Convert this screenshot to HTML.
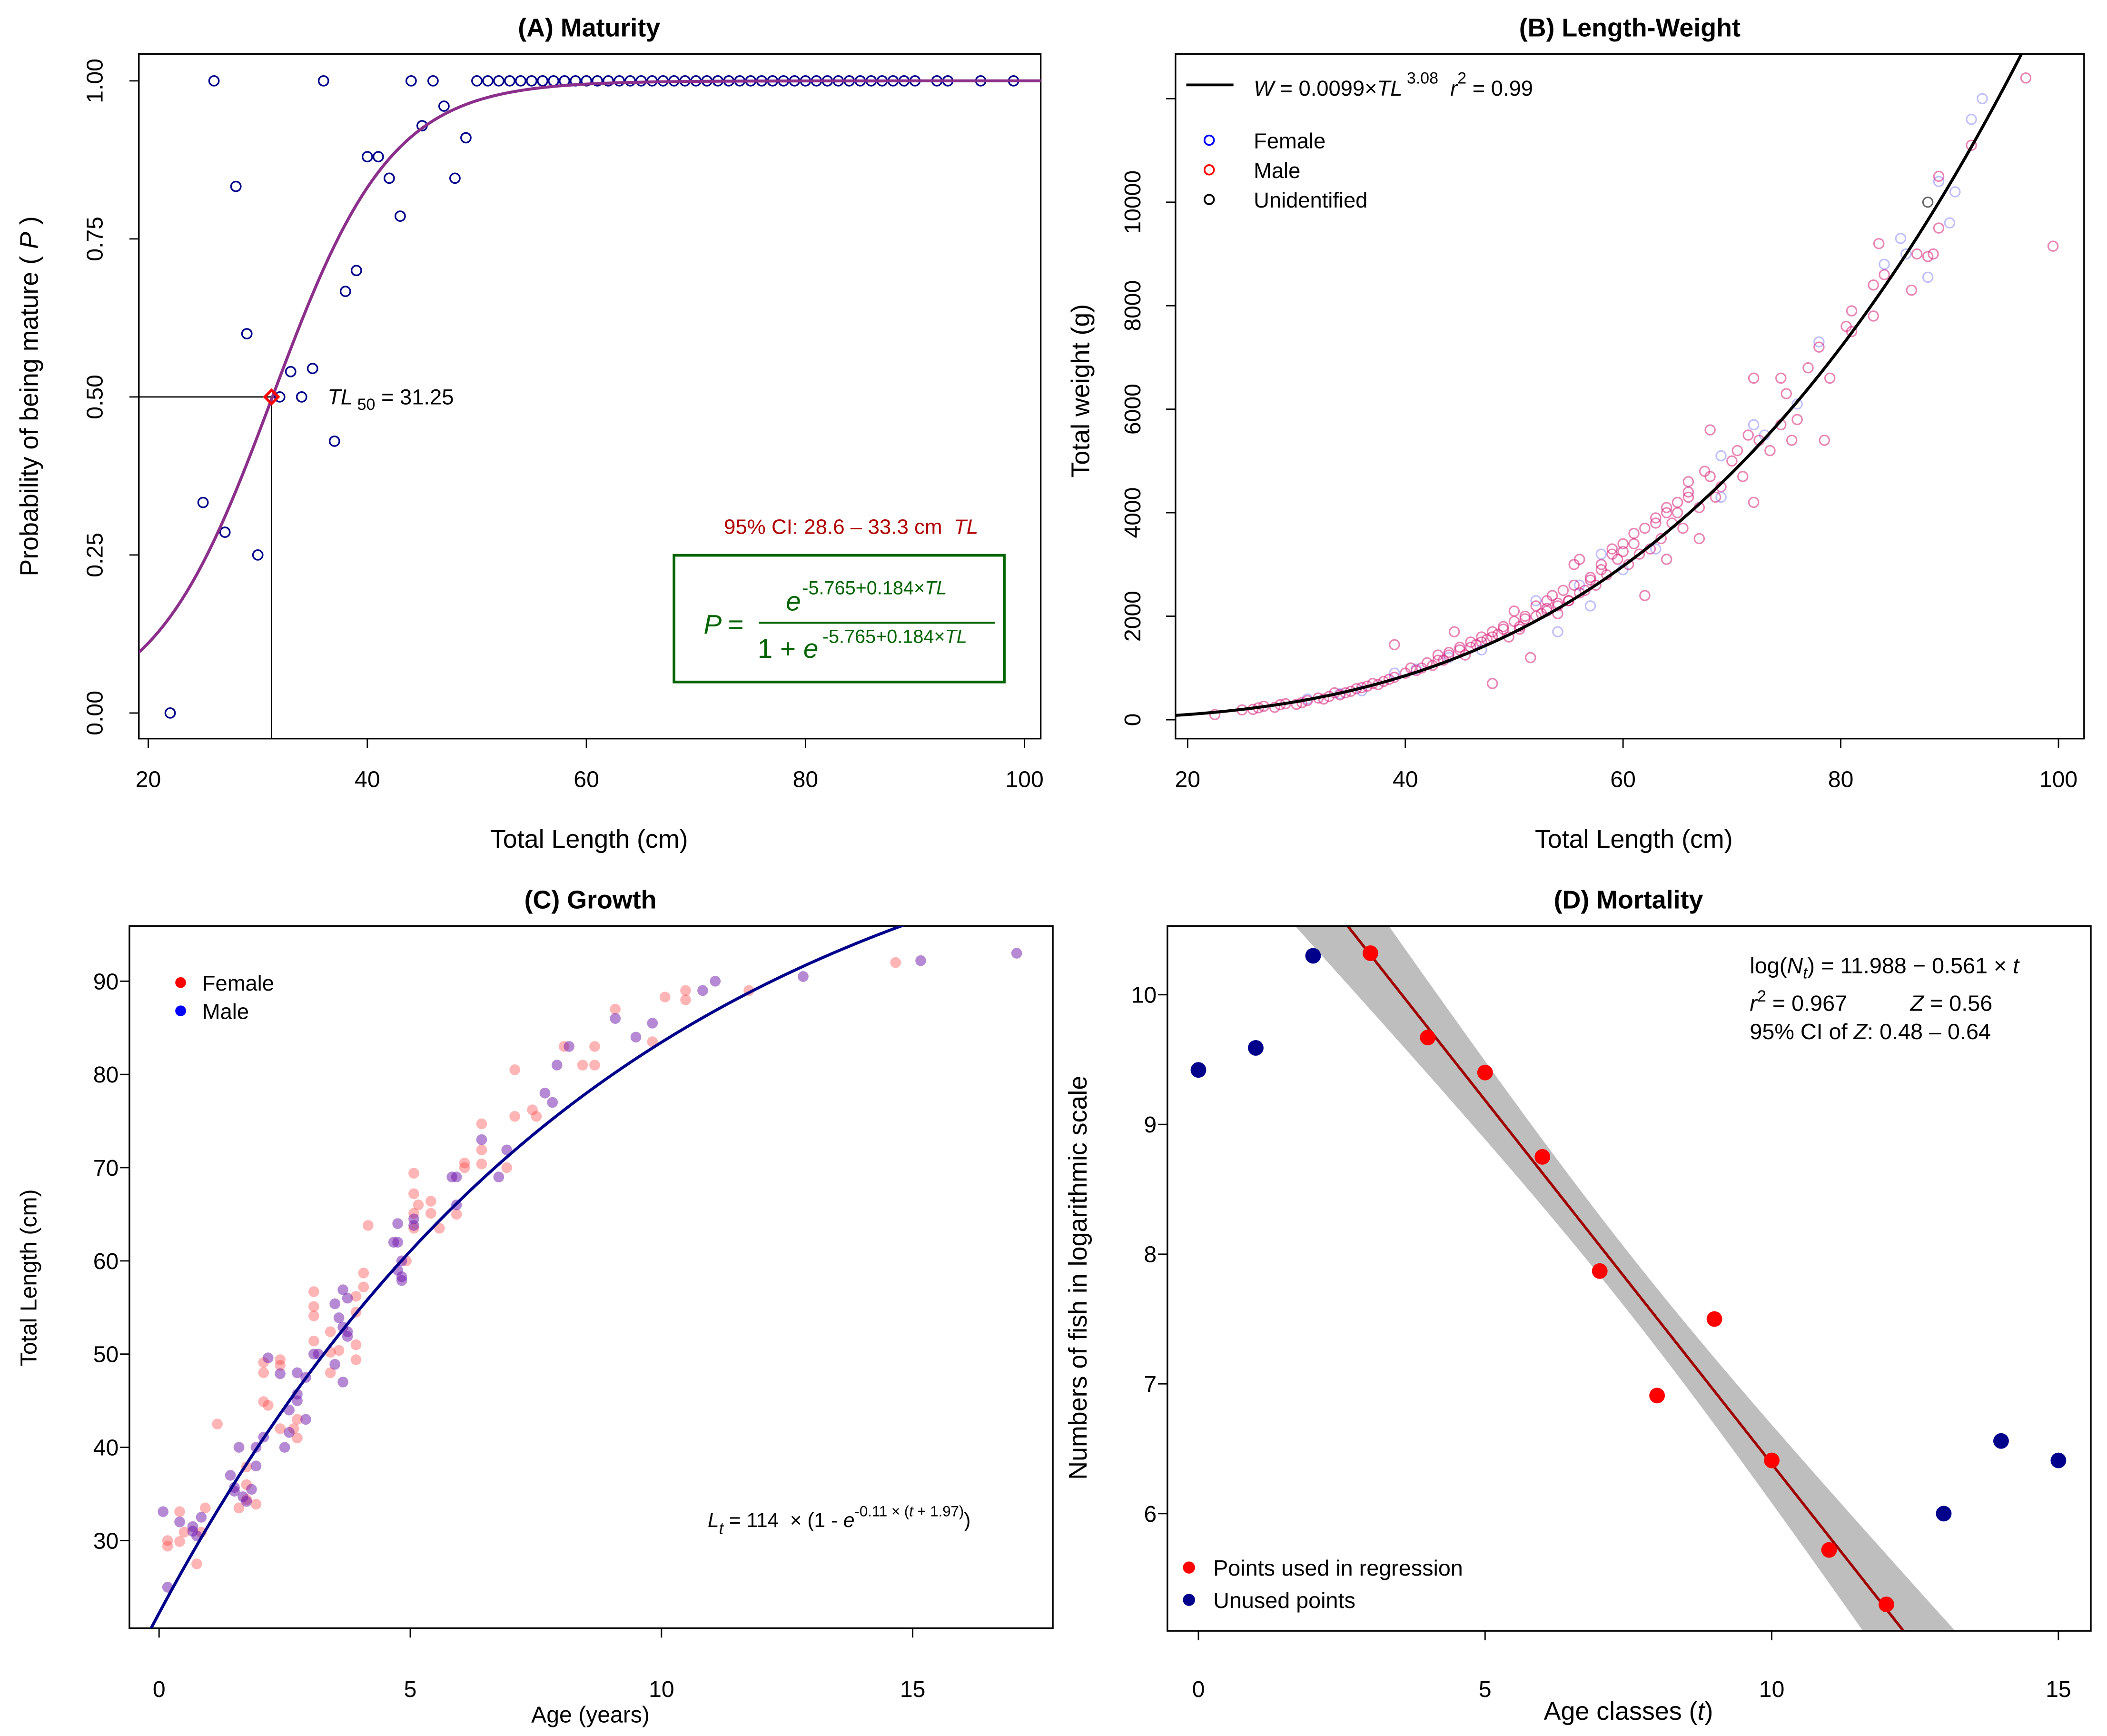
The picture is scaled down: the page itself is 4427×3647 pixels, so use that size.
<!DOCTYPE html>
<html><head><meta charset="utf-8"><style>
html,body{margin:0;padding:0;background:#fff;overflow:hidden;width:4427px;height:3647px;}
svg{display:block;font-family:"Liberation Sans",Arial,sans-serif;}
text{white-space:pre;}
</style></head><body>
<svg id="chart" width="4427" height="3647" viewBox="0 0 1563 1288" preserveAspectRatio="none" xmlns="http://www.w3.org/2000/svg">
<defs>
<clipPath id="clipA"><rect x="103" y="40" width="669" height="508"/></clipPath>
<clipPath id="clipB"><rect x="872" y="40" width="674" height="508"/></clipPath>
<clipPath id="clipC"><rect x="96" y="687" width="685" height="521"/></clipPath>
<clipPath id="clipD"><rect x="866" y="687" width="685" height="523"/></clipPath>
</defs>
<rect x="0" y="0" width="1563" height="1288" fill="#fff"/>

<g>
<text x="437" y="27" text-anchor="middle" font-size="19" font-weight="bold">(A) Maturity</text>
<rect x="103" y="40" width="669" height="508" fill="none" stroke="#000" stroke-width="1.2"/>
<text x="437" y="629" text-anchor="middle" font-size="19">Total Length (cm)</text>
<text transform="translate(28,294) rotate(-90)" text-anchor="middle" font-size="19">Probability of being mature ( <tspan font-style="italic">P</tspan> )</text>
<text x="243" y="300" font-size="16"><tspan font-style="italic">TL</tspan><tspan font-size="12" dy="4"> 50</tspan><tspan dy="-4"> = 31.25</tspan></text>
<text x="537" y="396" font-size="15.5" fill="#b00000">95% CI: 28.6 – 33.3 cm  <tspan font-style="italic">TL</tspan></text>
<rect x="500" y="412" width="245" height="94" fill="none" stroke="#006400" stroke-width="2"/>
<g fill="#006400">
<text x="522" y="470" font-size="20" font-style="italic">P</text><text x="540" y="470" font-size="20">=</text>
<text x="583" y="453" font-size="20" font-style="italic">e</text><text x="595" y="441" font-size="14">-5.765+0.184×<tspan font-style="italic">TL</tspan></text>
<line x1="563" y1="462" x2="738" y2="462" stroke="#006400" stroke-width="1.5"/>
<text x="562" y="488" font-size="20">1 + <tspan font-style="italic">e</tspan></text><text x="610" y="477" font-size="14">-5.765+0.184×<tspan font-style="italic">TL</tspan></text>
</g>
</g>

<g>
<text x="1209" y="27" text-anchor="middle" font-size="19" font-weight="bold">(B) Length-Weight</text>
<rect x="872" y="40" width="674" height="508" fill="none" stroke="#000" stroke-width="1.2"/>
<text x="1212" y="629" text-anchor="middle" font-size="19">Total Length (cm)</text>
<text transform="translate(808,290) rotate(-90)" text-anchor="middle" font-size="19">Total weight (g)</text>
<line x1="880" y1="63" x2="915" y2="63" stroke="#000" stroke-width="2"/>
<text x="930" y="71" font-size="16"><tspan font-style="italic">W</tspan> = 0.0099×<tspan font-style="italic">TL</tspan><tspan font-size="12" dy="-9"> 3.08</tspan><tspan dy="9">  </tspan><tspan font-style="italic">r</tspan><tspan font-size="12" dy="-9">2</tspan><tspan dy="9"> = 0.99</tspan></text>
<circle cx="897" cy="104" r="3.5" fill="none" stroke="#00f" stroke-width="1.3"/>
<text x="930" y="110" font-size="16">Female</text>
<circle cx="897" cy="126" r="3.5" fill="none" stroke="#f00" stroke-width="1.3"/>
<text x="930" y="132" font-size="16">Male</text>
<circle cx="897" cy="148" r="3.5" fill="none" stroke="#000" stroke-width="1.3"/>
<text x="930" y="154" font-size="16">Unidentified</text>
</g>

<g>
<text x="438" y="674" text-anchor="middle" font-size="19" font-weight="bold">(C) Growth</text>
<rect x="96" y="687" width="685" height="521" fill="none" stroke="#000" stroke-width="1.2"/>
<text x="438" y="1278" text-anchor="middle" font-size="17">Age (years)</text>
<text transform="translate(27,948) rotate(-90)" text-anchor="middle" font-size="17">Total Length (cm)</text>
<circle cx="134" cy="729" r="4" fill="#f00"/>
<text x="150" y="735" font-size="16">Female</text>
<circle cx="134" cy="750" r="4" fill="#00f"/>
<text x="150" y="756" font-size="16">Male</text>
<text x="525" y="1133" font-size="15"><tspan font-style="italic">L</tspan><tspan font-style="italic" font-size="12" dy="5">t</tspan><tspan dy="-5"> = 114  × (1 - </tspan><tspan font-style="italic">e</tspan><tspan font-size="11" dy="-8">-0.11 × (<tspan font-style="italic">t</tspan> + 1.97)</tspan><tspan dy="8">)</tspan></text>
</g>

<g>
<text x="1208" y="674" text-anchor="middle" font-size="19" font-weight="bold">(D) Mortality</text>
<text x="1208" y="1276" text-anchor="middle" font-size="19">Age classes (<tspan font-style="italic">t</tspan>)</text>
<text transform="translate(806,948) rotate(-90)" text-anchor="middle" font-size="19">Numbers of fish in logarithmic scale</text>
<text x="1298" y="722" font-size="16.5">log(<tspan font-style="italic">N</tspan><tspan font-style="italic" font-size="12" dy="4">t</tspan><tspan dy="-4">) = 11.988 − 0.561 × </tspan><tspan font-style="italic">t</tspan></text>
<text x="1298" y="750" font-size="16.5"><tspan font-style="italic">r</tspan><tspan font-size="12" dy="-7">2</tspan><tspan dy="7"> = 0.967</tspan></text>
<text x="1417" y="750" font-size="16.5"><tspan font-style="italic">Z</tspan> = 0.56</text>
<text x="1298" y="771" font-size="16.5">95% CI of <tspan font-style="italic">Z</tspan>: 0.48 – 0.64</text>
<circle cx="882" cy="1163" r="4.5" fill="#f00"/>
<text x="900" y="1169" font-size="16.5">Points used in regression</text>
<circle cx="882" cy="1187" r="4.5" fill="#00008b"/>
<text x="900" y="1193" font-size="16.5">Unused points</text>
</g>
</svg>
<script>
const matTL = [22,25,26,27,28,29,30,32,33,34,35,36,37,38,39,40,41,42,43,44,45,46,47,48,49,50,51,52,53,54,55,56,57,58,59,60,61,62,63,64,65,66,67,68,69,70,71,72,73,74,75,76,77,78,79,80,81,82,83,84,85,86,87,88,89,90,92,93,96,99];
const matP = [0,0.333,1,0.286,0.833,0.6,0.25,0.5,0.54,0.5,0.545,1,0.43,0.667,0.7,0.88,0.88,0.846,0.786,1,0.929,1,0.96,0.846,0.91,1,1,1,1,1,1,1,1,1,1,1,1,1,1,1,1,1,1,1,1,1,1,1,1,1,1,1,1,1,1,1,1,1,1,1,1,1,1,1,1,1,1,1,1,1];
const matCoef = [-5.765, 0.184];
const tl50 = [31.25, 0.5];
const aXTicks = [20,40,60,80,100];
const aYTicks = [0,0.25,0.5,0.75,1];
const aYLabels = ["0.00","0.25","0.50","0.75","1.00"];
const lwMaleTL = [22.5,25,26,27,28,29,30,31,32,33,33.5,34,35,35.5,36,37,38,39,39,40,40.5,41,42,42.5,43,43.5,44,44.5,45,45.5,46,46.5,47,47.5,48,48,48.5,49,49.5,50,50,50.5,51,51.5,52,52.5,53,53,53.5,54,54.5,55,55.5,55.5,56,56,57,57.5,58,58.5,59,59.5,60,60.5,61,61.5,62,62,62.5,63,63.5,64,64,64.5,65,65,65.5,66,66,67,67,67.5,68,68.5,69,70,70.5,71,71.5,72,72,72.5,73.5,74.5,74.5,75,75.5,76,77,78,78.5,79,80.5,81,81,83,83,83.5,84,86.5,87,88,88.5,89,89,92,97,99.5,26.5,28.5,30.5,32.5,34.5,36.5,37.5,38.5,41.5,43,44,45,46,47,48,49,50.5,51,52,53,54,54,55,56.5,57,58,59,60,61,63,64,66,68];
const lwMaleW = [100,190,200,260,240,310,300,370,420,450,520,480,550,600,620,700,740,1450,820,900,1000,950,1100,1050,1250,1150,1300,1700,1400,1250,1500,1450,1600,1550,1700,700,1650,1800,1600,1900,2100,1750,2000,1200,2200,2050,2300,2100,2400,2200,2500,2300,2600,3000,3100,2450,2700,2600,3000,2800,3300,3100,3400,3000,3600,3200,2400,3700,3300,3900,3500,4100,3100,3800,4200,4000,3700,4600,4300,3500,4100,4800,5600,4300,4500,5000,5200,4700,5500,4200,6600,5400,5200,5700,6600,6300,5400,5800,6800,7200,5400,6600,7600,7900,7500,8400,7800,9200,8600,8300,9000,8950,9000,9500,10500,11100,12400,9150,230,290,330,400,520,650,680,780,1000,1150,1250,1350,1400,1500,1600,1750,1800,1950,2000,2150,2250,2050,2300,2500,2750,2900,3200,3250,3400,3800,4000,4400,4700];
const lwFemTL = [31,34,36,39,41,44,47,52,54,56,57,58,60,63,69,69,72,73,76,78,84,85.5,86,88,89,90,90.5,92,93];
const lwFemW = [400,500,560,900,980,1200,1350,2300,1700,2600,2200,3200,2900,3300,5100,4300,5700,5500,6100,7300,8800,9300,9000,8550,10400,9600,10200,11600,12000];
const lwUnkTL = [88];
const lwUnkW = [10000];
const lwCoef = [0.0099, 3.08];
const bXTicks = [20,40,60,80,100];
const bYTicks = [0,2000,4000,6000,8000,10000,12000];
const bYLabels = ["0","2000","4000","6000","8000","10000",""];
const grFemAge = [0.17,0.17,0.41,0.41,0.5,0.75,0.84,0.92,1.16,1.59,1.74,1.74,1.74,1.93,2.08,2.08,2.17,2.41,2.41,2.08,2.41,2.68,2.75,2.75,3.08,3.08,3.08,3.08,3.41,3.41,3.41,3.58,3.92,3.92,3.92,3.92,4.07,4.07,4.16,4.92,5.07,5.07,5.07,5.07,5.16,5.41,5.41,5.58,5.92,6.08,6.08,6.42,6.42,6.42,6.92,7.08,7.43,7.51,7.08,8.06,8.43,8.67,8.67,9.08,9.82,10.07,10.48,10.48,11.74,14.66];
const grFemLen = [30,29.4,33.1,29.9,30.9,27.5,30.9,33.5,42.5,33.5,37.9,36,34.4,33.9,49.1,44.9,44.5,49.4,48.8,48,42,42,41,43,56.7,55.1,54.1,51.4,52.4,50.2,48,50.4,56.2,54.5,51,49.4,58.7,57.2,63.8,60,69.4,67.2,65.1,63.5,66,66.4,65.1,63.5,65,70.5,70,74.7,71.9,70.4,70,75.5,76.2,75.5,80.5,83,81,83,81,87,83.5,88.3,89,88,89,92];
const grMaleAge = [0.08,0.17,0.41,0.67,0.67,0.75,0.84,1.42,1.5,1.5,1.59,1.67,1.74,1.84,1.93,1.93,2.08,2.17,2.41,2.5,2.59,2.59,2.75,2.75,2.75,2.92,2.92,3.08,3.17,3.5,3.5,3.58,3.66,3.66,3.66,3.75,3.75,3.75,4.67,4.75,4.75,4.83,4.75,4.83,4.83,5.07,5.07,5.83,5.92,5.92,6.42,6.76,6.92,7.68,7.83,7.92,8.16,9.08,9.49,9.82,10.82,11.07,12.82,15.16,17.07];
const grMaleLen = [33.1,25,32,31.5,31,30.5,32.5,37,35.7,35.3,40,34.7,34.2,35.5,38,40,41.1,49.6,47.9,40,44,41.6,45.7,45,48,47.5,43,50,50,55.4,48.9,53.9,56.9,52.9,47,56,52.4,51.9,62,62,64,60,59,58.3,57.9,64.5,63.8,69,69,66,73,69,71.9,78,77,81,83,86,84,85.5,89,90,90.5,92.2,93];
const vbParams = [114, 0.11, -1.97];
const cXTicks = [0,5,10,15];
const cYTicks = [30,40,50,60,70,80,90];
const ageClass = [0,1,2,3,4,5,6,7,8,9,10,11,12,13,14,15];
const logN = [9.42,9.59,10.30,10.32,9.67,9.40,8.75,7.87,6.91,7.50,6.41,5.72,5.30,6.00,6.56,6.41];
const usedFlag = [0,0,0,1,1,1,1,1,1,1,1,1,1,0,0,0];
const dXTicks = [0,5,10,15];
const dYTicks = [6,7,8,9,10];

const NS = "http://www.w3.org/2000/svg";
const svg = document.getElementById('chart');
function mk(tag, attrs, name, parent) {
  const el = document.createElementNS(NS, tag);
  for (const k in attrs) el.setAttribute(k, attrs[k]);
  
  
  (parent || svg).appendChild(el);
  return el;
}
function axisX(scale, ticks, labels, yBase, labelY, prefix) {
  ticks.forEach((v, i) => {
    mk('line', {x1: scale(v), x2: scale(v), y1: yBase, y2: yBase + 7, stroke: '#000', 'stroke-width': 1}, prefix + '-x-tick');
    const t = mk('text', {x: scale(v), y: labelY, 'text-anchor': 'middle', 'font-size': 17}, prefix + '-x-tick-label');
    t.textContent = labels ? labels[i] : String(v);
  });
}
function axisY(scale, ticks, labels, xBase, labelX, rotated, prefix) {
  ticks.forEach((v, i) => {
    mk('line', {x1: xBase - 7, x2: xBase, y1: scale(v), y2: scale(v), stroke: '#000', 'stroke-width': 1}, prefix + '-y-tick');
    const txt = labels ? labels[i] : String(v);
    if (!txt) return;
    let t;
    if (rotated) t = mk('text', {transform: 'translate(' + labelX + ',' + scale(v) + ') rotate(-90)', 'text-anchor': 'middle', 'font-size': 17}, prefix + '-y-tick-label');
    else t = mk('text', {x: labelX, y: scale(v) + 6, 'text-anchor': 'end', 'font-size': 17}, prefix + '-y-tick-label');
    t.textContent = txt;
  });
}

const xa = v => 110 + (v - 20) * 8.125;
const ya = v => 529 - v * 469;
axisX(xa, aXTicks, null, 548, 584, 'panel-a');
axisY(ya, aYTicks, aYLabels, 103, 76, true, 'panel-a');
const gA = mk('g', {'clip-path': 'url(#clipA)'}, 'panel-a-plot-area');
mk('line', {x1: 103, x2: xa(tl50[0]), y1: ya(tl50[1]), y2: ya(tl50[1]), stroke: '#000', 'stroke-width': 1}, 'tl50-horizontal-line', gA);
mk('line', {x1: xa(tl50[0]), x2: xa(tl50[0]), y1: ya(tl50[1]), y2: 548, stroke: '#000', 'stroke-width': 1}, 'tl50-vertical-line', gA);
matTL.forEach((v, i) => {
  mk('circle', {cx: xa(v), cy: ya(matP[i]), r: 3.6, fill: 'none', stroke: '#00008b', 'stroke-width': 1.2}, 'maturity-point', gA);
});
{
  let d = '';
  for (let L = 18; L <= 103; L += 0.5) {
    const p = 1 / (1 + Math.exp(-(matCoef[0] + matCoef[1] * L)));
    d += (d ? 'L' : 'M') + xa(L).toFixed(2) + ',' + ya(p).toFixed(2);
  }
  mk('path', {d: d, fill: 'none', stroke: '#8b2f8b', 'stroke-width': 2.2}, 'maturity-logistic-curve', gA);
  const cx = xa(tl50[0]), cy = ya(tl50[1]);
  mk('path', {d: 'M' + (cx - 5) + ',' + cy + 'L' + cx + ',' + (cy - 5) + 'L' + (cx + 5) + ',' + cy + 'L' + cx + ',' + (cy + 5) + 'Z', fill: 'none', stroke: '#f00', 'stroke-width': 2}, 'tl50-marker', gA);
}

const xb = v => 881 + (v - 20) * 8.075;
const yb = v => 534 - v * 0.0384;
axisX(xb, bXTicks, null, 548, 584, 'panel-b');
axisY(yb, bYTicks, bYLabels, 872, 846, true, 'panel-b');
const gB = mk('g', {'clip-path': 'url(#clipB)'}, 'panel-b-plot-area');
lwFemTL.forEach((v, i) => {
  mk('circle', {cx: xb(v), cy: yb(lwFemW[i]), r: 3.6, fill: 'none', stroke: 'rgba(110,110,255,0.45)', 'stroke-width': 1.1}, 'female-lw-point', gB);
});
lwMaleTL.forEach((v, i) => {
  mk('circle', {cx: xb(v), cy: yb(lwMaleW[i]), r: 3.6, fill: 'none', stroke: 'rgba(215,30,120,0.55)', 'stroke-width': 1.1}, 'male-lw-point', gB);
});
lwUnkTL.forEach((v, i) => {
  mk('circle', {cx: xb(v), cy: yb(lwUnkW[i]), r: 3.6, fill: 'none', stroke: 'rgba(0,0,0,0.6)', 'stroke-width': 1.1}, 'unidentified-lw-point', gB);
});
{
  let d = '';
  for (let L = 18; L <= 100; L += 0.5) {
    const w = lwCoef[0] * Math.pow(L, lwCoef[1]);
    d += (d ? 'L' : 'M') + xb(L).toFixed(2) + ',' + yb(w).toFixed(2);
  }
  mk('path', {d: d, fill: 'none', stroke: '#000', 'stroke-width': 2.2}, 'length-weight-curve', gB);
}

const xc = v => 118 + v * 37.27;
const yc = v => 1143 - (v - 30) * 6.917;
axisX(xc, cXTicks, null, 1208, 1259, 'panel-c');
axisY(yc, cYTicks, null, 96, 88, false, 'panel-c');
const gC = mk('g', {'clip-path': 'url(#clipC)'}, 'panel-c-plot-area');
grFemAge.forEach((v, i) => {
  mk('circle', {cx: xc(v), cy: yc(grFemLen[i]), r: 4, fill: 'rgba(255,60,60,0.38)'}, 'female-growth-point', gC);
});
grMaleAge.forEach((v, i) => {
  mk('circle', {cx: xc(v), cy: yc(grMaleLen[i]), r: 4, fill: 'rgba(110,20,170,0.5)'}, 'male-growth-point', gC);
});
{
  let d = '';
  for (let t = -0.3; t <= 18; t += 0.1) {
    const L = vbParams[0] * (1 - Math.exp(-vbParams[1] * (t - vbParams[2])));
    d += (d ? 'L' : 'M') + xc(t).toFixed(2) + ',' + yc(L).toFixed(2);
  }
  mk('path', {d: d, fill: 'none', stroke: '#00008b', 'stroke-width': 2.2}, 'von-bertalanffy-curve', gC);
}

const xd = v => 889 + v * 42.53;
const yd = v => 1123 - (v - 6) * 96.25;
axisX(xd, dXTicks, null, 1210, 1259, 'panel-d');
axisY(yd, dYTicks, null, 866, 858, false, 'panel-d');
const gD = mk('g', {'clip-path': 'url(#clipD)'}, 'panel-d-plot-area');
{
  const ux = [], uy = [];
  ageClass.forEach((t, i) => { if (usedFlag[i]) { ux.push(t); uy.push(logN[i]); } });
  const n = ux.length;
  const mx = ux.reduce((a, b) => a + b, 0) / n, my = uy.reduce((a, b) => a + b, 0) / n;
  let sxx = 0, sxy = 0;
  ux.forEach((x, i) => { sxx += (x - mx) * (x - mx); sxy += (x - mx) * (uy[i] - my); });
  const slope = sxy / sxx, icpt = my - slope * mx;
  const c = 0.72;
  let upper = '', lower = [];
  for (let t = 1; t <= 14; t += 0.25) {
    const h = c * Math.sqrt(1 / n + (t - mx) * (t - mx) / sxx);
    const f = icpt + slope * t;
    upper += (upper ? 'L' : 'M') + xd(t).toFixed(2) + ',' + yd(f + h).toFixed(2);
    lower.push(xd(t).toFixed(2) + ',' + yd(f - h).toFixed(2));
  }
  mk('path', {d: upper + 'L' + lower.reverse().join('L') + 'Z', fill: '#bebebe', stroke: 'none'}, 'regression-confidence-band', gD);
  mk('line', {x1: xd(1), y1: yd(icpt + slope * 1), x2: xd(14), y2: yd(icpt + slope * 14), stroke: '#a00000', 'stroke-width': 2}, 'regression-line', gD);
}
ageClass.forEach((t, i) => {
  mk('circle', {cx: xd(t), cy: yd(logN[i]), r: 5.8, fill: usedFlag[i] ? '#f00' : '#00008b'}, usedFlag[i] ? 'used-age-class-point' : 'unused-age-class-point', gD);
});
mk('rect', {x: 866, y: 687, width: 685, height: 523, fill: 'none', stroke: '#000', 'stroke-width': 1.2}, 'panel-d-frame');
</script>
</body></html>
